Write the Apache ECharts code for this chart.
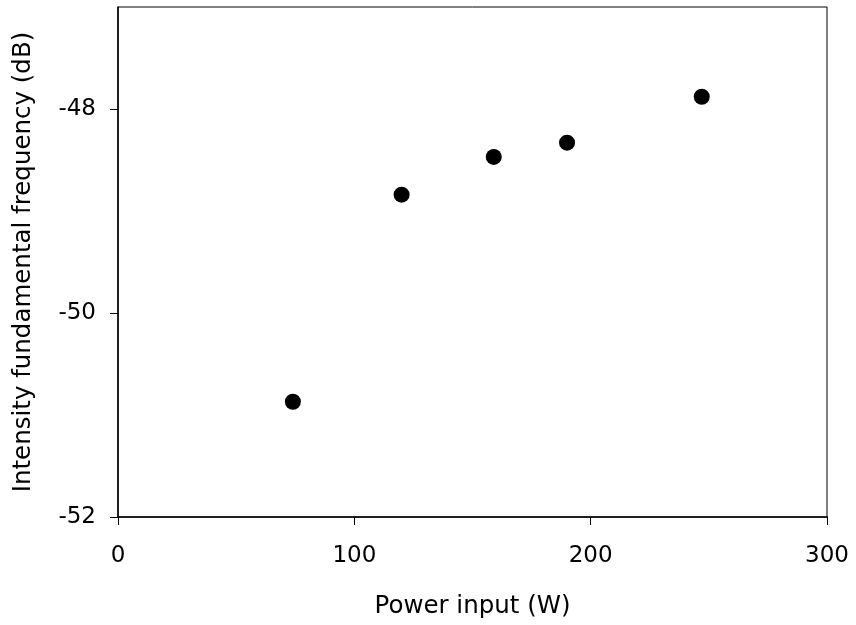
<!DOCTYPE html>
<html><head><meta charset="utf-8">
<script src="https://cdn.jsdelivr.net/npm/echarts@6/dist/echarts.min.js"></script>
<style>html,body{margin:0;padding:0;background:#fff}#c{width:856px;height:625px}</style>
</head><body><div id="c"></div>
<script>
const powerInput = [74, 120, 159, 190, 247];
const intensity = [-50.87, -48.84, -48.47, -48.33, -47.88];
const xTicks = [0, 100, 200, 300];
const yTicks = [-52, -50, -48];
const xTitle = 'Power input (W)';
const yTitle = 'Intensity fundamental frequency (dB)';

const font = 'DejaVu Sans';
const chart = echarts.init(document.getElementById('c'), null, {renderer: 'canvas'});
chart.setOption({
  animation: false,
  backgroundColor: '#fff',
  grid: {left: 118, top: 7, right: 29, bottom: 108, show: true, borderColor: '#000', borderWidth: 1},
  xAxis: {
    type: 'value', min: 0, max: 300, interval: 100,
    name: xTitle, nameLocation: 'middle', nameGap: 77,
    nameTextStyle: {fontFamily: font, fontSize: 24.5, color: '#000'},
    axisLine: {lineStyle: {color: '#000', width: 1.5}},
    axisTick: {show: true, length: 8, inside: false, lineStyle: {color: '#000'}, customValues: xTicks},
    axisLabel: {fontFamily: font, fontSize: 23, color: '#000', margin: 28, customValues: xTicks},
    splitLine: {show: false}
  },
  yAxis: {
    type: 'value', min: -52, max: -47, interval: 2,
    name: yTitle, nameLocation: 'middle', nameGap: 82, nameRotate: 90,
    nameTextStyle: {fontFamily: font, fontSize: 24.5, color: '#000'},
    axisLine: {show: true, lineStyle: {color: '#000', width: 1.5}},
    axisTick: {show: true, length: 8, inside: false, lineStyle: {color: '#000'}, customValues: yTicks},
    axisLabel: {fontFamily: font, fontSize: 23, color: '#000', margin: 22, customValues: yTicks},
    splitLine: {show: false}
  },
  series: [{
    type: 'scatter',
    data: powerInput.map((x, i) => [x, intensity[i]]),
    symbol: 'circle', symbolSize: 16,
    itemStyle: {color: '#000', opacity: 1}
  }]
});
</script></body></html>
